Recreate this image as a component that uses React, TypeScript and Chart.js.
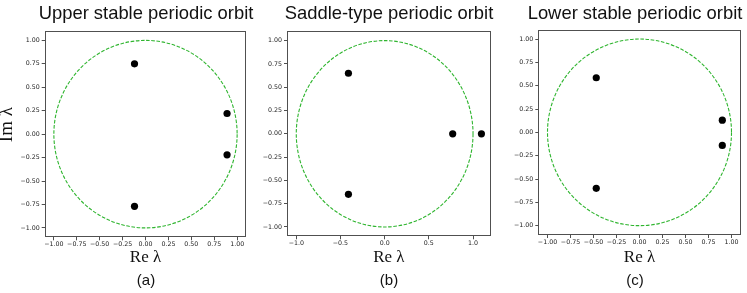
import React, { useEffect, useRef } from "react";
import { Chart, registerables } from "chart.js";

Chart.register(...registerables);

// ---------- text ----------
const TITLES = ["Upper stable periodic orbit", "Saddle-type periodic orbit", "Lower stable periodic orbit"];
const PANEL_LABELS = ["(a)", "(b)", "(c)"];
const X_AXIS_LABEL = "Re λ";
const Y_AXIS_LABEL = "    Im λ";

// ---------- data (Floquet multipliers: real / imaginary parts) ----------
const UPPER_RE = [-0.12, -0.12, 0.89, 0.89];
const UPPER_IM = [0.75, -0.77, 0.22, -0.22];
const SADDLE_RE = [-0.41, -0.41, 0.77, 1.095];
const SADDLE_IM = [0.65, -0.65, 0.0, 0.0];
const LOWER_RE = [-0.47, -0.47, 0.9, 0.9];
const LOWER_IM = [0.585, -0.6, 0.13, -0.14];

const UNIT_CIRCLE_RADIUS = 1;

// ---------- ticks ----------
const FINE_TICKS = [-1, -0.75, -0.5, -0.25, 0, 0.25, 0.5, 0.75, 1];
const FINE_TICK_LABELS = ["−1.00", "−0.75", "−0.50", "−0.25", "0.00", "0.25", "0.50", "0.75", "1.00"];
const COARSE_TICKS = [-1, -0.5, 0, 0.5, 1];
const COARSE_TICK_LABELS = ["−1.0", "−0.5", "0.0", "0.5", "1.0"];

// ---------- axis limits ----------
const UPPER_X_LIMITS = [-1.1, 1.1];
const SADDLE_X_LIMITS = [-1.105, 1.2];
const LOWER_X_LIMITS = [-1.1, 1.1];
const Y_LIMITS = [-1.1, 1.1];

// ---------- layout (page pixels) ----------
const CANVAS_W = 300;
const CANVAS_H = 293;

type PanelCfg = {
  title: string;
  label: string;
  re: number[];
  im: number[];
  xLimits: number[];
  xTicks: number[];
  xTickLabels: string[];
  showYTitle: boolean;
  canvasLeft: number;
  L: number;
  R: number;
  T: number;
  B: number;
};

const PANELS: PanelCfg[] = [
  {
    title: TITLES[0], label: PANEL_LABELS[0], re: UPPER_RE, im: UPPER_IM,
    xLimits: UPPER_X_LIMITS, xTicks: FINE_TICKS, xTickLabels: FINE_TICK_LABELS, showYTitle: true,
    canvasLeft: -4, L: 44.7, R: 246.3, T: 31, B: 237.3,
  },
  {
    title: TITLES[1], label: PANEL_LABELS[1], re: SADDLE_RE, im: SADDLE_IM,
    xLimits: SADDLE_X_LIMITS, xTicks: COARSE_TICKS, xTickLabels: COARSE_TICK_LABELS, showYTitle: false,
    canvasLeft: 239, L: 287, R: 490.7, T: 31.3, B: 236.3,
  },
  {
    title: TITLES[2], label: PANEL_LABELS[2], re: LOWER_RE, im: LOWER_IM,
    xLimits: LOWER_X_LIMITS, xTicks: FINE_TICKS, xTickLabels: FINE_TICK_LABELS, showYTitle: false,
    canvasLeft: 485, L: 538.3, R: 740.7, T: 29.7, B: 235,
  },
];

const SANS = "'Liberation Sans', Arial, Helvetica, sans-serif";
const SERIF = "'Liberation Serif', 'Times New Roman', serif";
const TICK_FONT = "'DejaVu Sans', sans-serif";
const FRAME_COLOR = "#505050";
const CIRCLE_COLOR = "#2fb52f";

const framePlugin = {
  id: "frame",
  afterDatasetsDraw(chart: any) {
    const { ctx, chartArea } = chart;
    const l = Math.round(chartArea.left) + 0.5;
    const t = Math.round(chartArea.top) + 0.5;
    const r = Math.round(chartArea.right) - 0.5;
    const b = Math.round(chartArea.bottom) - 0.5;
    ctx.save();
    ctx.strokeStyle = FRAME_COLOR;
    ctx.lineWidth = 1;
    ctx.strokeRect(l, t, r - l, b - t);
    ctx.restore();
  },
};

const unitCirclePlugin = {
  id: "unitCircle",
  beforeDatasetsDraw(chart: any) {
    const { ctx, scales } = chart;
    const xs = scales.x;
    const ys = scales.y;
    const cx = xs.getPixelForValue(0);
    const cy = ys.getPixelForValue(0);
    const rx = Math.abs(xs.getPixelForValue(UNIT_CIRCLE_RADIUS) - cx);
    const ry = Math.abs(ys.getPixelForValue(UNIT_CIRCLE_RADIUS) - cy);
    ctx.save();
    ctx.strokeStyle = CIRCLE_COLOR;
    ctx.lineWidth = 1.1;
    ctx.setLineDash([3.6, 1.6]);
    ctx.beginPath();
    ctx.ellipse(cx, cy, rx, ry, 0, 0, Math.PI * 2);
    ctx.stroke();
    ctx.restore();
  },
};

function Panel({ cfg }: { cfg: PanelCfg }) {
  const ref = useRef<HTMLCanvasElement>(null);
  useEffect(() => {
    if (!ref.current) return;
    const cl = cfg.canvasLeft;
    const titleSize = 18.4;
    const titleLH = 1.2;
    const titlePadTop = 2.5;
    const subSize = 15;
    const subPadBottom = 3.5;
    const subTop = CANVAS_H - (subSize * 1.2 + subPadBottom);
    const tickColor = "#222";
    const tickSize = 6.3;

    const chart = new Chart(ref.current, {
      type: "scatter",
      data: {
        datasets: [
          {
            data: cfg.re.map((x, i) => ({ x, y: cfg.im[i] })),
            pointRadius: 3.6,
            pointHoverRadius: 3.6,
            backgroundColor: "#000",
            borderColor: "#000",
            borderWidth: 0,
            xAxisID: "x",
            yAxisID: "y",
          },
        ],
      },
      options: {
        animation: false,
        responsive: false,
        events: [],
        layout: { padding: 0 },
        plugins: {
          legend: { display: false },
          tooltip: { enabled: false },
          title: {
            display: true,
            text: cfg.title,
            color: "#111",
            font: { family: SANS, size: titleSize, weight: "normal", lineHeight: titleLH },
            padding: { top: titlePadTop, bottom: cfg.T - titlePadTop - titleSize * titleLH },
          },
          subtitle: {
            display: true,
            position: "bottom",
            text: cfg.label,
            color: "#111",
            font: { family: SANS, size: subSize, weight: "normal", lineHeight: 1.2 },
            padding: { top: 0, bottom: subPadBottom },
          },
        },
        scales: {
          x: {
            type: "linear",
            position: "bottom",
            min: cfg.xLimits[0],
            max: cfg.xLimits[1],
            afterBuildTicks: (s: any) => {
              s.ticks = cfg.xTicks.map((v) => ({ value: v }));
            },
            afterFit: (s: any) => {
              s.height = subTop - cfg.B;
            },
            ticks: {
              callback: (_v: any, i: number) => cfg.xTickLabels[i],
              font: { family: TICK_FONT, size: tickSize },
              color: tickColor,
              padding: 0.5,
              maxRotation: 0,
              autoSkip: false,
            },
            grid: { display: true, drawOnChartArea: false, drawTicks: true, tickLength: 3, color: FRAME_COLOR, lineWidth: 1 },
            border: { display: false },
            title: {
              display: true,
              text: X_AXIS_LABEL,
              color: "#111",
              font: { family: SERIF, size: 17, lineHeight: 1.2 },
              padding: { top: 0, bottom: 3.7 },
            },
          },
          y: {
            type: "linear",
            position: "left",
            min: Y_LIMITS[0],
            max: Y_LIMITS[1],
            afterBuildTicks: (s: any) => {
              s.ticks = FINE_TICKS.map((v) => ({ value: v }));
            },
            afterFit: (s: any) => {
              s.width = cfg.L - cl;
            },
            ticks: {
              callback: (_v: any, i: number) => FINE_TICK_LABELS[i],
              font: { family: TICK_FONT, size: tickSize },
              color: tickColor,
              padding: 2,
              autoSkip: false,
            },
            grid: { display: true, drawOnChartArea: false, drawTicks: true, tickLength: 3, color: FRAME_COLOR, lineWidth: 1 },
            border: { display: false },
            title: {
              display: cfg.showYTitle,
              text: Y_AXIS_LABEL,
              color: "#111",
              font: { family: SERIF, size: 19, lineHeight: 1.2 },
              padding: { top: 0, bottom: 0 },
            },
          },
          // empty spacer on the right so the title can be centred over the axes
          spacer: {
            type: "linear",
            position: "right",
            display: true,
            ticks: { display: false },
            grid: { display: false, drawTicks: false },
            border: { display: false },
            afterFit: (s: any) => {
              s.width = cl + CANVAS_W - cfg.R;
            },
          },
        },
      } as any,
      plugins: [unitCirclePlugin, framePlugin],
    });
    return () => chart.destroy();
  }, [cfg]);

  return (
    <canvas
      ref={ref}
      width={CANVAS_W}
      height={CANVAS_H}
      style={{ position: "absolute", left: cfg.canvasLeft, top: 0, width: CANVAS_W, height: CANVAS_H }}
    />
  );
}

export default function App() {
  return (
    <div
      style={{
        position: "fixed",
        left: 0,
        top: 0,
        width: 747,
        height: 293,
        overflow: "hidden",
        background: "#fff",
      }}
    >
      {PANELS.map((p, i) => (
        <Panel key={i} cfg={p} />
      ))}
    </div>
  );
}
